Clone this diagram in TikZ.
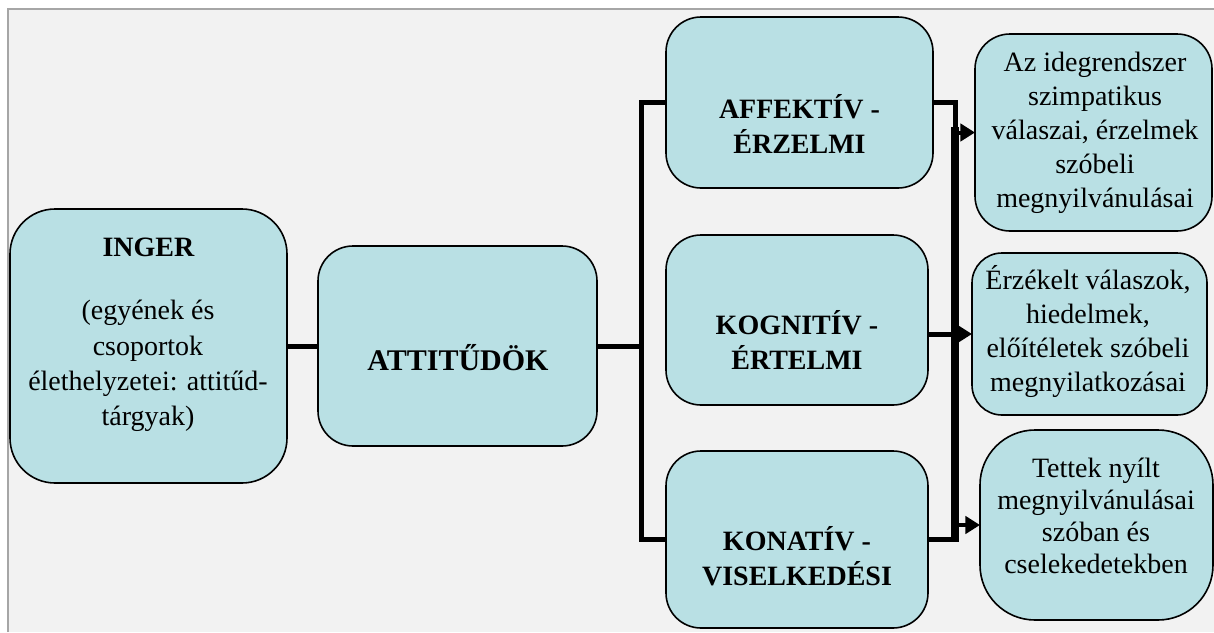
\documentclass[tikz,border=0pt]{standalone}
\usepackage{fontspec}
\setmainfont{Liberation Serif}
\usetikzlibrary{arrows.meta}
\definecolor{bgc}{RGB}{242,242,242}
\definecolor{boxc}{RGB}{185,224,228}
\definecolor{framec}{RGB}{166,166,166}
\begin{document}
\begin{tikzpicture}[x=0.75pt,y=-0.75pt,
  bx/.style n args={3}{draw=black, line width=1.2pt, fill=boxc, outer sep=0pt, inner sep=0pt,
    minimum width=#1*0.75pt, minimum height=#2*0.75pt, rounded corners=#3*0.75pt},
  txt/.style={font=\fontsize{21}{25}\selectfont, align=center, inner sep=0pt},
  hd/.style={align=center, inner sep=0pt, font=\fontsize{21}{26.25}\selectfont\bfseries},
  conn/.style={line width=3.75pt, line join=miter},
  bar/.style={line width=6pt},
  arr/.style={line width=3pt, -{Triangle[length=11pt,width=13pt]}},
]
\useasboundingbox (0,0) rectangle (1214,632);
\fill[white] (0,0) rectangle (1214,632);
\fill[bgc] (8.3,8.8) rectangle (1214,632);
\draw[framec, line width=1.5pt] (8.3,632) -- (8.3,8.8) -- (1214,8.8);

% boxes
\node[bx={277}{274}{45}] (inger) at (148.5,346) {};
\node[bx={279}{200}{35}] (att) at (457.5,346) {};
\node[bx={267}{171}{35}] (aff) at (799.5,102.5) {};
\node[bx={262}{170}{35}] (kog) at (797,320) {};
\node[bx={262}{177}{35}] (kon) at (797,539.5) {};
\node[bx={237}{197}{35}] (r1) at (1093.5,132.5) {};
\node[bx={235}{162}{30}] (r2) at (1089.5,334) {};
\node[bx={233}{190}{55}] (r3) at (1096.5,525) {};

% texts
\node[hd] (tinger) at (148.5,247) {INGER};
\node[txt, font=\fontsize{21}{26.5}\selectfont] (tinger2) at (148,366)
  {(egyének és\\csoportok\\élethelyzetei: attitűd-\\tárgyak)};
\node[hd, font=\fontsize{22.5}{27}\selectfont\bfseries] (tatt) at (458,358) {ATTITŰDÖK};
\node[hd] (taff) at (799.5,123.5) {AFFEKTÍV -\\ÉRZELMI};
\node[hd] (tkog) at (797,339.5) {KOGNITÍV -\\ÉRTELMI};
\node[hd] (tkon) at (797,556.5) {KONATÍV -\\VISELKEDÉSI};
\node[txt, font=\fontsize{21}{25.6}\selectfont] (tr1) at (1095,133) {Az idegrendszer\\szimpatikus\\válaszai, érzelmek\\szóbeli\\megnyilvánulásai};
\node[txt, font=\fontsize{21}{25.5}\selectfont] (tr2) at (1088,331) {Érzékelt válaszok,\\hiedelmek,\\előítéletek szóbeli\\megnyilatkozásai};
\node[txt, font=\fontsize{21}{24}\selectfont] (tr3) at (1096,516) {Tettek nyílt\\megnyilvánulásai\\szóban és\\cselekedetekben};

% connectors
\coordinate (bl) at (641,346);
\coordinate (br) at (955,300);
\coordinate (bt) at (955,127);
\coordinate (bb) at (955,542);
\draw[conn] (inger) -- (att);
\draw[conn] (att.east) -- (bl);
\draw[conn] (aff.west) -| (bl |- kon.west) -- (kon.west);
\draw[conn] (aff.east) -| (br |- r1.west);
\draw[conn] (kog.east |- r2.west) -- (br |- r2.west);
\draw[conn] (kon.east) -- (br |- kon.east);
\draw[bar] (bt) -- (bb);
\draw[arr] (br |- r1.west) -- (r1.west);
\draw[arr] (br |- r2.west) -- (r2.west);
\draw[arr] (br |- r3.west) -- (r3.west);
\end{tikzpicture}
\end{document}
